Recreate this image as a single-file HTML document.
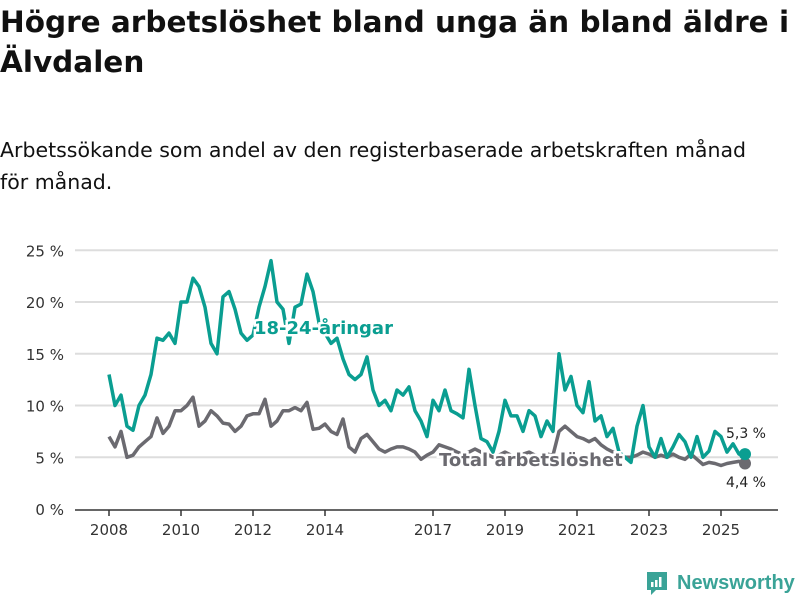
<!DOCTYPE html>
<html><head><meta charset="utf-8"><style>
body{margin:0;width:800px;height:600px;background:#fff;font-family:"DejaVu Sans","Liberation Sans",sans-serif;color:#111;overflow:hidden;position:relative}
h1{position:absolute;left:0;top:2px;margin:0;font-size:29.5px;line-height:40px;font-weight:bold;width:800px}
p{position:absolute;left:0;top:134px;margin:0;font-size:20.5px;line-height:32px;width:770px}
</style></head><body>
<h1>Högre arbetslöshet bland unga än bland äldre i Älvdalen</h1>
<p>Arbetssökande som andel av den registerbaserade arbetskraften månad för månad.</p>
<svg id="chart" width="800" height="600" style="position:absolute;left:0;top:0"></svg>
<div style="position:absolute;left:645px;top:570px;display:flex;align-items:center;color:#3aa397;font-size:20px;font-weight:bold;font-family:'Liberation Sans',sans-serif">
<svg width="24" height="26"><path d="M2 2h20v18h-11l-5 5v-5h-4z" fill="#3aa397"/><rect x="6" y="12" width="2.5" height="5" fill="#fff"/><rect x="10" y="10" width="2.5" height="7" fill="#fff"/><rect x="14" y="7" width="2.5" height="10" fill="#fff"/></svg>
<span style="margin-left:8px">Newsworthy</span></div>
<script>
const startYear = 2008;
const yTicks = [0,5,10,15,20,25];
const xTickYears = [2008,2010,2012,2014,2017,2019,2021,2023,2025];
const youth = [13,10,11,8,7.6,10, 11,13,16.5,16.3,17,16, 20,20,22.3,21.5,19.5,16, 15,20.5,21,19.3,17,16.3, 16.8,19.5,21.5,24,20,19.3, 16,19.5,19.8,22.7,21,18, 17,16,16.5,14.5,13,12.5, 13,14.7,11.5,10,10.5,9.5, 11.5,11,11.8,9.5,8.5,7, 10.5,9.5,11.5,9.5,9.2,8.8, 13.5,10,6.8,6.5,5.5,7.5, 10.5,9,9,7.5,9.5,9, 7,8.5,7.5,15,11.5,12.8, 10,9.3,12.3,8.5,9,7, 7.8,5.5,5,4.5,8,10, 6,5,6.8,5,6,7.2, 6.5,5,7,5,5.6,7.5, 7,5.5,6.3,5.3,5.3];
const total = [7,6,7.5,5,5.2,6, 6.5,7,8.8,7.3,8,9.5, 9.5,10,10.8,8,8.5,9.5, 9,8.3,8.2,7.5,8,9, 9.2,9.2,10.6,8,8.5,9.5, 9.5,9.8,9.5,10.3,7.7,7.8, 8.2,7.5,7.2,8.7,6,5.5, 6.8,7.2,6.5,5.8,5.5,5.8, 6,6,5.8,5.5,4.8,5.2, 5.5,6.2,6,5.8,5.5,5.3, 5.5,5.8,5.5,5.3,5,5.2, 5.5,5.2,5,5.3,5.5,5.2, 5,5.3,5.2,7.5,8,7.5, 7,6.8,6.5,6.8,6.2,5.8, 5.5,5.2,5,5,5.2,5.5, 5.3,5,5.2,5,5.3,5, 4.8,5.3,4.8,4.3,4.5,4.4, 4.2,4.4,4.5,4.6,4.4];
const stepYears = 1/6;
const NS="http://www.w3.org/2000/svg";
const svg=document.getElementById('chart');
const x=t=>109+(t-startYear)*36;
const y=v=>509-v*10.35;
function el(tag,attrs){const e=document.createElementNS(NS,tag);for(const k in attrs)e.setAttribute(k,attrs[k]);svg.appendChild(e);return e;}
yTicks.forEach(v=>{
  if(v>0){const g=el('line',{x1:75,x2:778,y1:y(v),y2:y(v),stroke:'#ddd','stroke-width':2});
  
  }
  const t=el('text',{x:64,y:y(v)+6,'text-anchor':'end','font-size':15,fill:'#333'});
  t.textContent=v+' %';
  
  
});
const ax=el('line',{x1:75,x2:778,y1:510,y2:510,stroke:'#333','stroke-width':1.5});


xTickYears.forEach(yr=>{
  el('line',{x1:x(yr),x2:x(yr),y1:510,y2:516,stroke:'#333','stroke-width':1.5});
  const t=el('text',{x:x(yr),y:535,'text-anchor':'middle','font-size':15,fill:'#333'});
  t.textContent=yr;
  
  
});
function line(data,color,name){
  const d=data.map((v,i)=>(i?'L':'M')+x(startYear+i*stepYears).toFixed(1)+' '+y(v).toFixed(1)).join(' ');
  const p=el('path',{d:d,fill:'none',stroke:color,'stroke-width':3.5,'stroke-linejoin':'round'});
  
  
  const n=data.length-1;
  const c=el('circle',{cx:x(startYear+n*stepYears),cy:y(data[n]),r:6,fill:color});
  
  
}
line(total,'#6b6a70','total-line');
line(youth,'#0a9e91','youth-line');
function label(txt,xx,yy,color,name,size,weight,anchor){
  const t=el('text',{x:xx,y:yy,'font-size':size,'font-weight':weight,fill:color,stroke:'#fff','stroke-width':weight==='bold'?5:0,'paint-order':'stroke','text-anchor':anchor||'start'});
  t.textContent=txt;
  
  
}
label('18-24-åringar',254,334,'#0a9e91','youth-series-label',18,'bold');
label('Total arbetslöshet',439,466,'#6b6a70','total-series-label',18,'bold');
const ny=youth.length-1, nt=total.length-1;
label(youth[ny].toString().replace('.',',')+' %',766,438,'#222','youth-end-value',14,'normal','end');
label(total[nt].toString().replace('.',',')+' %',766,487,'#222','total-end-value',14,'normal','end');
</script>
</body></html>
